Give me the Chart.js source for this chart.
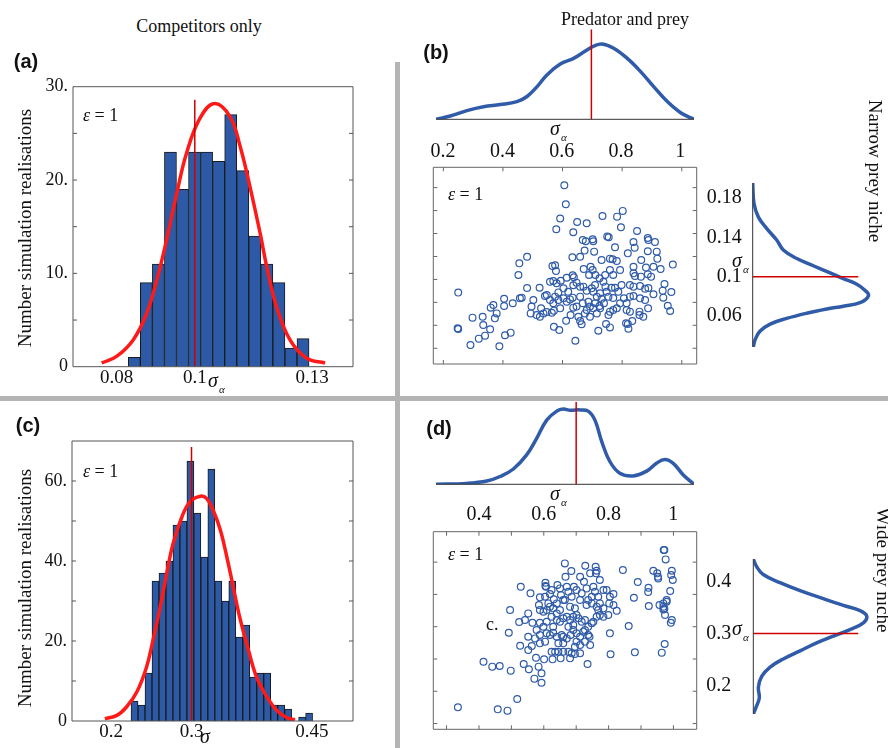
<!DOCTYPE html>
<html>
<head>
<meta charset="utf-8">
<script src="https://cdn.jsdelivr.net/npm/chart.js@4.4.1/dist/chart.umd.min.js"></script>
<style>
  body { margin: 0; background: #fff; }
  #page { position: relative; width: 888px; height: 748px; overflow: hidden;
          font-family: 'Liberation Serif', 'Times New Roman', serif; color: #111; }
  .box { position: absolute; }
  .rule { position: absolute; background: #b4b4b4; }
  .t { position: absolute; white-space: nowrap; line-height: 1; font-size: 18px; }
  .c { transform: translate(-50%, -50%); }
  .vl { transform: translate(-50%, -50%) rotate(-90deg); font-size: 19px; }
  .vr { transform: translate(-50%, -50%) rotate(90deg); font-size: 19px; }
  .mid { transform: translateY(-50%); }
  .tag { font-family: 'Liberation Sans', Arial, sans-serif; font-weight: bold; font-size: 20px; }
  .sig { font-size: 20px; line-height: 20px; font-style: italic; }
  .sig span { font-size: 11px; position: relative; top: 6px; margin-left: 1px; }
</style>
</head>
<body>
<div id="page">
  <div class="rule" style="left:395px;top:62px;width:5px;height:686px"></div>
  <div class="rule" style="left:0;top:396px;width:888px;height:5px"></div>

  <div class="box" style="left:0;top:60px;width:370px;height:340px"><canvas id="histA"></canvas></div>
  <div class="box" style="left:0;top:420px;width:370px;height:328px"><canvas id="histC"></canvas></div>
  <div class="box" style="left:400px;top:20px;width:310px;height:140px"><canvas id="topB"></canvas></div>
  <div class="box" style="left:400px;top:395px;width:310px;height:140px"><canvas id="topD"></canvas></div>
  <div class="box" style="left:420px;top:160px;width:290px;height:210px"><canvas id="scatB"></canvas></div>
  <div class="box" style="left:420px;top:525px;width:290px;height:215px"><canvas id="scatD"></canvas></div>
  <div class="box" style="left:700px;top:160px;width:188px;height:210px"><canvas id="sideB"></canvas></div>
  <div class="box" style="left:700px;top:525px;width:188px;height:223px"><canvas id="sideD"></canvas></div>

  <div class="t c" style="left:199px;top:26px">Competitors only</div>
  <div class="t c" style="left:625px;top:19px">Predator and prey</div>
  <div class="t c tag" style="left:26px;top:61px">(a)</div>
  <div class="t c tag" style="left:436px;top:52px">(b)</div>
  <div class="t c tag" style="left:28px;top:425px">(c)</div>
  <div class="t c tag" style="left:439px;top:428px">(d)</div>
  <div class="t vl" style="left:24px;top:228px">Number simulation realisations</div>
  <div class="t vl" style="left:24px;top:588px">Number simulation realisations</div>
  <div class="t vr" style="left:875px;top:171px">Narrow prey niche</div>
  <div class="t vr" style="left:883px;top:570px">Wide prey niche</div>

  <div class="t mid" style="left:83px;top:115px"><i>ε</i> = 1</div>
  <div class="t mid" style="left:83px;top:471px"><i>ε</i> = 1</div>
  <div class="t mid" style="left:448px;top:194px"><i>ε</i> = 1</div>
  <div class="t mid" style="left:448px;top:554px"><i>ε</i> = 1</div>
  <div class="t mid" style="left:486px;top:624px">c.</div>

  <div class="t sig" style="left:208px;top:370px">σ<span>α</span></div>
  <div class="t sig" style="left:200px;top:726px">σ</div>
  <div class="t sig" style="left:550px;top:118px">σ<span>α</span></div>
  <div class="t sig" style="left:550px;top:483px">σ<span>α</span></div>
  <div class="t sig" style="left:732px;top:250px">σ<span>α</span></div>
  <div class="t sig" style="left:732px;top:618px">σ<span>α</span></div>
</div>

<script>
// (a) competitors only, narrow niche
const aBins = [0.08454, 0.08762, 0.09070, 0.09378, 0.09686, 0.09994, 0.10302, 0.10610,
               0.10918, 0.11226, 0.11534, 0.11842, 0.12150, 0.12458, 0.12766];
const aCounts = [1, 9, 11, 23, 19, 23, 23, 22, 27, 21, 14, 11, 9, 2, 3];
const aFitX = [0.0762, 0.0800, 0.0843, 0.0877, 0.0903, 0.0928, 0.0954, 0.0979, 0.1013, 0.1050,
               0.1090, 0.1116, 0.1141, 0.1167, 0.1184, 0.1209, 0.1243, 0.1286, 0.1333];
const aFitY = [0.4, 1.1, 2.9, 5.7, 9.3, 13.6, 18.6, 22.9, 26.6, 28.2,
               26.8, 23.6, 19.3, 14.3, 10.7, 6.4, 2.9, 0.9, 0.4];
const aXTicks = [0.08, 0.1, 0.13];
const aXLabels = ['0.08', '0.1', '0.13'];
const aYTicks = [0, 10, 20, 30];
const aYLabels = ['0', '10.', '20.', '30.'];
const aYMinor = [5, 10, 15, 20, 25];

// (c) competitors only, wide niche
const cBins = [0.2290, 0.2377, 0.2464, 0.2551, 0.2638, 0.2725, 0.2812, 0.2899, 0.2986, 0.3073,
               0.3160, 0.3247, 0.3334, 0.3421, 0.3508, 0.3595, 0.3682, 0.3769, 0.3856, 0.3943,
               0.4030, 0.4117, 0.4204, 0.4291, 0.4378, 0.4465];
const cCounts = [5, 4, 12, 35, 37, 40, 49, 50, 65, 52, 41, 63, 35, 30, 35, 21, 24, 11, 12, 12,
                 4, 4, 3, 0, 1, 2];
const cFitX = [0.192, 0.207, 0.219, 0.232, 0.244, 0.252, 0.261, 0.269, 0.277, 0.288, 0.298, 0.311,
               0.319, 0.327, 0.336, 0.344, 0.352, 0.360, 0.371, 0.381, 0.394, 0.406, 0.419, 0.429];
const cFitY = [0.6, 1.4, 3.5, 7.3, 13.5, 20.2, 28.5, 36.8, 44.3, 51, 54.8, 56.2,
               55.6, 52.7, 47.7, 41, 33.5, 26, 17.7, 11, 6, 2.7, 0.8, 0.3];
const cXTicks = [0.2, 0.3, 0.45];
const cXLabels = ['0.2', '0.3', '0.45'];
const cYTicks = [0, 20, 40, 60];
const cYLabels = ['0', '20.', '40.', '60.'];
const cYMinor = [10, 20, 30, 40, 50, 60];

// (b) predator and prey, narrow prey niche
const bTopX = [0.176, 0.224, 0.280, 0.336, 0.393, 0.449, 0.483, 0.517, 0.550, 0.595, 0.640,
               0.685, 0.708, 0.736, 0.775, 0.821, 0.866, 0.910, 0.956, 1.001, 1.046];
const bTopY = [0, 0.11, 0.29, 0.42, 0.49, 0.59, 0.76, 1.09, 1.48, 1.84, 2.03,
               2.31, 2.44, 2.51, 2.37, 2.03, 1.59, 1.09, 0.59, 0.22, 0];
const bXTicks = [0.2, 0.4, 0.6, 0.8, 1];
const bXLabels = ['0.2', '0.4', '0.6', '0.8', '1'];
const bSideSig = [0.1954, 0.1751, 0.1606, 0.1490, 0.1373, 0.1272, 0.1184, 0.1111, 0.1039, 0.0980, 0.0923,
                  0.0865, 0.0806, 0.0734, 0.0699, 0.0670, 0.0627, 0.0574, 0.0516, 0.0443, 0.0356, 0.0283];
const bSideDens = [0, 0.04, 0.19, 0.47, 0.80, 1.02, 1.47, 2.02, 2.58, 3.02, 3.47,
                   3.73, 3.86, 3.58, 3.02, 2.47, 1.80, 1.13, 0.58, 0.24, 0.08, 0.02];
const bYTicks = [0.06, 0.1, 0.14, 0.18];
const bYLabels = ['0.06', '0.1', '0.14', '0.18'];
const bFrameX = [0.2, 0.4, 0.6, 0.8, 1.0];
const bFrameY = [0.04, 0.06, 0.08, 0.1, 0.12, 0.14, 0.16, 0.18];
const bPoints = [
  [0.606,0.1820],[0.611,0.1655],[0.592,0.1530],[0.579,0.1437],[0.649,0.1501],[0.681,0.1489],[0.636,0.1411],
  [0.734,0.1553],[0.783,0.1547],[0.802,0.1597],[0.796,0.1454],[0.850,0.1422],[0.668,0.1344],[0.678,0.1332],
  [0.701,0.1350],[0.703,0.1332],[0.750,0.1373],[0.755,0.1367],[0.776,0.1280],[0.838,0.1326],[0.842,0.1277],
  [0.886,0.1361],[0.888,0.1344],[0.910,0.1326],[0.706,0.1242],[0.674,0.1251],[0.633,0.1193],[0.659,0.1198],
  [0.819,0.1227],[0.886,0.1245],[0.864,0.1169],[0.918,0.1181],[0.970,0.1129],[0.929,0.1091],[0.880,0.1103],
  [0.481,0.1198],[0.455,0.1140],[0.452,0.1039],[0.481,0.0925],[0.523,0.0928],[0.541,0.0856],[0.566,0.1117],
  [0.575,0.1123],[0.578,0.1073],[0.558,0.0980],[0.569,0.0986],[0.580,0.0966],[0.594,0.0989],[0.603,0.0922],
  [0.586,0.0887],[0.614,0.1015],[0.634,0.1036],[0.638,0.1018],[0.647,0.0972],[0.636,0.0949],[0.671,0.1091],
  [0.694,0.1111],[0.701,0.1082],[0.689,0.1039],[0.710,0.1039],[0.724,0.1010],[0.731,0.1169],[0.759,0.1181],
  [0.768,0.1175],[0.782,0.1161],[0.759,0.1082],[0.793,0.1082],[0.838,0.1053],[0.843,0.1030],[0.863,0.1024],
  [0.886,0.1044],[0.897,0.1024],[0.838,0.0937],[0.826,0.0951],[0.860,0.0943],[0.877,0.0919],[0.888,0.0925],
  [0.942,0.0960],[0.936,0.0902],[0.965,0.0890],[0.905,0.0870],[0.938,0.0841],[0.953,0.0771],[0.961,0.0725],
  [0.887,0.0748],[0.871,0.0675],[0.858,0.0719],[0.838,0.0856],[0.826,0.0850],[0.815,0.0792],[0.806,0.0835],
  [0.793,0.0792],[0.770,0.0838],[0.764,0.0928],[0.776,0.0928],[0.744,0.0937],[0.748,0.0893],[0.731,0.0832],
  [0.739,0.0792],[0.724,0.0768],[0.709,0.0792],[0.703,0.0748],[0.692,0.0763],[0.687,0.0806],[0.698,0.0922],
  [0.709,0.0951],[0.703,0.0893],[0.681,0.0902],[0.670,0.0937],[0.668,0.0792],[0.659,0.0850],[0.647,0.0763],
  [0.634,0.0841],[0.625,0.0826],[0.614,0.0806],[0.603,0.0835],[0.586,0.0821],[0.569,0.0792],[0.558,0.0821],
  [0.571,0.0728],[0.564,0.0710],[0.547,0.0716],[0.536,0.0704],[0.524,0.0675],[0.513,0.0690],[0.496,0.0763],
  [0.493,0.0704],[0.502,0.0821],[0.592,0.0748],[0.612,0.0640],[0.627,0.0690],[0.659,0.0638],[0.664,0.0609],
  [0.653,0.0675],[0.636,0.0754],[0.754,0.0690],[0.759,0.0719],[0.770,0.0733],[0.782,0.0748],[0.815,0.0733],
  [0.834,0.0638],[0.813,0.0617],[0.821,0.0571],[0.819,0.0611],[0.858,0.0690],[0.759,0.0582],[0.746,0.0611],
  [0.720,0.0553],[0.571,0.0588],[0.589,0.0559],[0.643,0.0466],[0.433,0.0792],[0.404,0.0832],[0.404,0.0768],
  [0.457,0.0835],[0.463,0.0841],[0.368,0.0777],[0.359,0.0754],[0.379,0.0704],[0.373,0.0661],[0.332,0.0675],
  [0.334,0.0603],[0.298,0.0667],[0.357,0.0565],[0.340,0.0510],[0.319,0.0484],[0.291,0.0428],[0.388,0.0417],
  [0.407,0.0513],[0.426,0.0536],[0.250,0.0885],[0.248,0.0574],[0.250,0.0568],[0.715,0.0704],[0.726,0.0748],
  [0.681,0.0733],[0.675,0.0704],[0.692,0.0675],[0.715,0.0850],[0.726,0.0879],[0.754,0.0850],[0.787,0.0893],
  [0.798,0.0951],[0.770,0.1039],[0.743,0.1039],[0.860,0.0835],[0.877,0.0821],[0.826,0.0719],[0.619,0.0893],
  [0.575,0.0850],[0.547,0.0864],[0.528,0.0748],[0.659,0.0937],[0.737,0.0980],[0.838,0.1111],[0.905,0.1111],
  [0.916,0.1242]
];

// (d) predator and prey, wide prey niche
const dTopX = [0.267, 0.362, 0.424, 0.465, 0.506, 0.547, 0.578, 0.609, 0.640, 0.660, 0.681, 0.712,
               0.737, 0.758, 0.779, 0.804, 0.835, 0.876, 0.918, 0.948, 0.974, 1.000, 1.031, 1.064];
const dTopY = [0, 0.03, 0.11, 0.26, 0.51, 0.98, 1.53, 2.14, 2.44, 2.51, 2.47, 2.48,
               2.44, 2.14, 1.42, 0.76, 0.37, 0.28, 0.44, 0.70, 0.83, 0.70, 0.31, 0];
const dXTicks = [0.4, 0.6, 0.8, 1];
const dXLabels = ['0.4', '0.6', '0.8', '1'];
const dSideSig = [0.4435, 0.4291, 0.4136, 0.3981, 0.3827, 0.3672, 0.3542, 0.3440, 0.3336, 0.3207, 0.3077,
                  0.2949, 0.2820, 0.2666, 0.2511, 0.2356, 0.2175, 0.1969, 0.1762, 0.1607, 0.1452];
const dSideDens = [0, 0.11, 0.33, 0.89, 1.56, 2.33, 3.0, 3.56, 3.78, 3.67, 3.22,
                   2.67, 2.11, 1.56, 1.0, 0.56, 0.28, 0.17, 0.2, 0.11, 0];
const dYTicks = [0.2, 0.3, 0.4];
const dYLabels = ['0.2', '0.3', '0.4'];
const dFrameX = [0.3, 0.4, 0.5, 0.6, 0.7, 0.8, 0.9, 1.0];
const dFrameY = [0.15, 0.2, 0.25, 0.3, 0.35, 0.4];
const dPoints = [
  [0.335,0.1751],[0.458,0.1720],[0.488,0.1700],[0.518,0.1880],[0.414,0.2458],[0.441,0.2381],[0.464,0.2391],
  [0.498,0.2319],[0.538,0.2422],[0.554,0.2340],[0.571,0.2195],[0.593,0.2278],[0.593,0.2133],[0.584,0.2381],
  [0.576,0.2520],[0.601,0.2494],[0.496,0.3258],[0.492,0.2907],[0.527,0.2706],[0.552,0.2639],[0.563,0.2701],
  [0.524,0.3072],[0.542,0.3103],[0.565,0.3062],[0.552,0.3206],[0.552,0.2845],[0.578,0.2948],[0.573,0.2819],
  [0.588,0.2871],[0.604,0.2768],[0.599,0.3000],[0.609,0.3077],[0.529,0.3619],[0.559,0.3516],[0.585,0.3335],
  [0.588,0.3258],[0.599,0.3232],[0.604,0.3464],[0.607,0.3619],[0.605,0.3681],[0.624,0.3568],[0.631,0.3423],
  [0.640,0.3361],[0.642,0.3645],[0.650,0.3593],[0.665,0.3980],[0.667,0.3774],[0.685,0.3862],[0.653,0.3490],
  [0.660,0.3413],[0.671,0.3619],[0.693,0.3619],[0.701,0.3568],[0.712,0.3774],[0.728,0.3944],[0.724,0.3697],
  [0.732,0.3593],[0.743,0.3826],[0.760,0.3929],[0.763,0.3867],[0.761,0.3826],[0.773,0.3722],[0.753,0.3619],
  [0.758,0.3542],[0.768,0.3464],[0.773,0.3361],[0.784,0.3568],[0.794,0.3568],[0.804,0.3464],[0.815,0.3335],
  [0.825,0.3248],[0.784,0.3284],[0.763,0.3310],[0.748,0.3361],[0.737,0.3413],[0.712,0.3413],[0.696,0.3284],
  [0.681,0.3310],[0.665,0.3413],[0.650,0.3258],[0.640,0.3206],[0.629,0.3284],[0.624,0.3155],[0.619,0.3310],
  [0.614,0.3361],[0.640,0.3103],[0.650,0.3077],[0.660,0.3129],[0.671,0.3155],[0.681,0.3103],[0.691,0.3155],
  [0.707,0.3129],[0.717,0.3077],[0.727,0.3103],[0.737,0.3000],[0.748,0.3052],[0.753,0.3077],[0.763,0.3155],
  [0.773,0.3181],[0.784,0.3155],[0.799,0.3181],[0.609,0.2897],[0.619,0.2871],[0.629,0.2907],[0.640,0.2845],
  [0.645,0.2742],[0.655,0.2871],[0.660,0.2845],[0.671,0.2819],[0.683,0.2871],[0.691,0.2948],[0.701,0.2897],
  [0.712,0.2845],[0.722,0.2923],[0.737,0.2871],[0.741,0.2845],[0.743,0.2716],[0.727,0.2768],[0.701,0.2768],
  [0.696,0.2690],[0.624,0.2613],[0.635,0.2613],[0.645,0.2613],[0.660,0.2613],[0.676,0.2613],[0.686,0.2587],
  [0.696,0.2577],[0.712,0.2587],[0.652,0.2510],[0.627,0.2494],[0.681,0.2510],[0.735,0.2422],[0.804,0.2897],
  [0.806,0.2572],[0.862,0.3010],[0.881,0.2603],[0.878,0.3449],[0.890,0.3691],[0.844,0.3877],[0.923,0.3604],
  [0.922,0.3537],[0.924,0.3320],[0.938,0.3867],[0.950,0.3826],[0.952,0.3774],[0.953,0.3748],[0.957,0.3335],
  [0.969,0.3310],[0.972,0.3279],[0.969,0.3361],[0.979,0.3413],[0.990,0.3552],[0.993,0.3800],[0.998,0.3722],
  [0.995,0.3867],[0.972,0.4187],[0.976,0.4042],[0.974,0.3181],[0.995,0.3103],[0.992,0.3062],[0.973,0.2732],
  [0.964,0.2598],[0.969,0.3268],[0.979,0.3387],[0.970,0.4187],[0.605,0.3630],[0.588,0.3454],[0.619,0.3506],
  [0.676,0.3542],[0.686,0.3464],[0.717,0.3516],[0.732,0.3335],[0.748,0.3464],[0.768,0.3258],[0.802,0.3361],
  [0.815,0.3506],[0.676,0.3000],[0.691,0.3026],[0.701,0.3181],[0.629,0.3000],[0.588,0.2742],[0.660,0.2742],
  [0.712,0.2716],[0.727,0.2948],[0.588,0.3062],[0.609,0.3258]
];

const histBlue = '#2d5aa6';
const lineBlue = '#2f5ba8';
const fitRed = '#ff1a1a';
const trueRed = '#d00000';

Chart.defaults.font.family = "'Liberation Serif', 'Times New Roman', serif";
Chart.defaults.color = '#111';
Chart.defaults.animation = false;
Chart.defaults.events = [];
Chart.defaults.maintainAspectRatio = false;
Chart.defaults.plugins.legend.display = false;
Chart.defaults.plugins.tooltip.enabled = false;

function pts(xs, ys) {
  return xs.map((x, i) => ({ x: x, y: ys[i] }));
}

// box lines and inward tick marks, placed through the chart's own scales
function frame(spec) {
  return {
    id: 'frame',
    afterDatasetsDraw(chart) {
      const { ctx, chartArea: a, scales } = chart;
      const s = spec.sides;
      const len = 4;
      ctx.save();
      ctx.strokeStyle = spec.color;
      ctx.lineWidth = 1;
      ctx.beginPath();
      if (s.includes('top')) { ctx.moveTo(a.left, a.top); ctx.lineTo(a.right, a.top); }
      if (s.includes('bottom')) { ctx.moveTo(a.left, a.bottom); ctx.lineTo(a.right, a.bottom); }
      if (s.includes('left')) { ctx.moveTo(a.left, a.top); ctx.lineTo(a.left, a.bottom); }
      if (s.includes('right')) { ctx.moveTo(a.right, a.top); ctx.lineTo(a.right, a.bottom); }
      (spec.xTicks || []).forEach(v => {
        const x = scales.x.getPixelForValue(v);
        if (s.includes('bottom')) { ctx.moveTo(x, a.bottom); ctx.lineTo(x, a.bottom - len); }
        if (s.includes('top')) { ctx.moveTo(x, a.top); ctx.lineTo(x, a.top + len); }
      });
      (spec.yTicks || []).forEach(v => {
        const y = scales.y.getPixelForValue(v);
        if (s.includes('left')) { ctx.moveTo(a.left, y); ctx.lineTo(a.left + len, y); }
        if (s.includes('right')) { ctx.moveTo(a.right, y); ctx.lineTo(a.right - len, y); }
      });
      ctx.stroke();
      ctx.restore();
    }
  };
}

function hiddenAxis(min, max) {
  return { type: 'linear', display: false, min: min, max: max, bounds: 'data' };
}

function labelAxis(min, max, ticks, labels, size, pad, fit) {
  return {
    type: 'linear', min: min, max: max, bounds: 'data', offset: false,
    grid: { display: false, drawTicks: false },
    border: { display: false },
    afterBuildTicks: scale => { scale.ticks = ticks.map(v => ({ value: v })); },
    afterFit: fit,
    ticks: { autoSkip: false, maxRotation: 0, padding: pad, color: '#111',
             font: { size: size }, callback: (v, i) => labels[i] }
  };
}

function histogram(id, h) {
  new Chart(document.getElementById(id), {
    type: 'bar',
    data: {
      datasets: [
        { type: 'line', data: [{ x: h.truth, y: 0 }, { x: h.truth, y: h.truthTop }],
          borderColor: trueRed, borderWidth: 1.5, pointRadius: 0, order: 0 },
        { type: 'line', data: pts(h.fitX, h.fitY), borderColor: fitRed, borderWidth: 3.5,
          pointRadius: 0, tension: 0.4, order: 1 },
        { type: 'bar', data: pts(h.bins, h.counts), backgroundColor: histBlue, borderColor: '#1a1a1a',
          borderWidth: 1, barPercentage: 1, categoryPercentage: 1, order: 2 }
      ]
    },
    options: {
      layout: { padding: h.pad },
      scales: {
        x: labelAxis(h.xMin, h.xMax, h.xTicks, h.xLabels, 19, 0, s => { s.height = h.xh; }),
        y: labelAxis(0, h.yMax, h.yTicks, h.yLabels, 18, 5, s => { s.width = h.yw; })
      }
    },
    plugins: [frame({ sides: ['top', 'bottom', 'left', 'right'], yTicks: h.yMinor, color: '#555' })]
  });
}

function topDensity(id, d) {
  new Chart(document.getElementById(id), {
    type: 'line',
    data: {
      datasets: [
        { data: [{ x: d.truth, y: 0 }, { x: d.truth, y: d.yMax }], borderColor: trueRed,
          borderWidth: 1.5, pointRadius: 0 },
        { data: pts(d.x, d.y), borderColor: lineBlue, borderWidth: 3.5, pointRadius: 0, tension: 0.4 }
      ]
    },
    options: {
      layout: { padding: d.pad },
      scales: {
        x: labelAxis(d.xMin, d.xMax, d.ticks, d.labels, 20, d.xPad, s => { s.height = d.xh; }),
        y: hiddenAxis(0, d.yMax)
      }
    },
    plugins: [frame({ sides: ['bottom'], color: '#333' })]
  });
}

function sideDensity(id, d) {
  new Chart(document.getElementById(id), {
    type: 'line',
    data: {
      datasets: [
        { data: [{ x: 0, y: d.truth }, { x: d.truthLen, y: d.truth }], borderColor: trueRed,
          borderWidth: 1.5, pointRadius: 0 },
        { data: pts(d.dens, d.sig), borderColor: lineBlue, borderWidth: 3.5, pointRadius: 0, tension: 0.4 }
      ]
    },
    options: {
      layout: { padding: d.pad },
      scales: {
        x: hiddenAxis(0, 4),
        y: labelAxis(d.yMin, d.yMax, d.ticks, d.labels, 20, d.yPad, s => { s.width = d.yw; })
      }
    },
    plugins: [frame({ sides: ['left'], color: '#333' })]
  });
}

function scatterPanel(id, p) {
  new Chart(document.getElementById(id), {
    type: 'scatter',
    data: {
      datasets: [{
        data: p.points.map(q => ({ x: q[0], y: q[1] })),
        pointRadius: 3.4, borderWidth: 1.2, borderColor: lineBlue, backgroundColor: 'rgba(0,0,0,0)'
      }]
    },
    options: {
      layout: { padding: p.pad },
      scales: { x: hiddenAxis(p.xMin, p.xMax), y: hiddenAxis(p.yMin, p.yMax) }
    },
    plugins: [frame({ sides: ['top', 'bottom', 'left', 'right'], xTicks: p.xTicks, yTicks: p.yTicks, color: '#666' })]
  });
}

histogram('histA', {
  bins: aBins, counts: aCounts, fitX: aFitX, fitY: aFitY, truth: 0.1, truthTop: 28.6,
  xMin: 0.06887, xMax: 0.14044, yMax: 30, xTicks: aXTicks, xLabels: aXLabels,
  yTicks: aYTicks, yLabels: aYLabels, yMinor: aYMinor,
  pad: { left: 0, right: 17, top: 26.7, bottom: 0 }, xh: 33.3, yw: 73
});

histogram('histC', {
  bins: cBins, counts: cCounts, fitX: cFitX, fitY: cFitY, truth: 0.3, truthTop: 68.5,
  xMin: 0.1511, xMax: 0.5012, yMax: 70, xTicks: cXTicks, xLabels: cXLabels,
  yTicks: cYTicks, yLabels: cYLabels, yMinor: cYMinor,
  pad: { left: 0, right: 17, top: 21, bottom: 0 }, xh: 27, yw: 72
});

topDensity('topB', {
  x: bTopX, y: bTopY, truth: 0.7, yMax: 3, xMin: 0.176, xMax: 1.046,
  ticks: bXTicks, labels: bXLabels, xPad: 20,
  pad: { left: 36, right: 16, top: 9.3, bottom: 0 }, xh: 40.7
});

topDensity('topD', {
  x: dTopX, y: dTopY, truth: 0.7, yMax: 2.75, xMin: 0.267, xMax: 1.064,
  ticks: dXTicks, labels: dXLabels, xPad: 18,
  pad: { left: 36, right: 16, top: 6.8, bottom: 0 }, xh: 50.7
});

scatterPanel('scatB', {
  points: bPoints, xMin: 0.1664, xMax: 1.0501, yMin: 0.0263, yMax: 0.1977,
  xTicks: bFrameX, yTicks: bFrameY,
  pad: { left: 13.3, right: 13.3, top: 7.3, bottom: 6 }
});

scatterPanel('scatD', {
  points: dPoints, xMin: 0.2591, xMax: 1.0718, yMin: 0.1411, yMax: 0.4471,
  xTicks: dFrameX, yTicks: dFrameY,
  pad: { left: 13.3, right: 13.3, top: 6.7, bottom: 10.7 }
});

sideDensity('sideB', {
  sig: bSideSig, dens: bSideDens, truth: 0.1, truthLen: 3.52,
  yMin: 0.0283, yMax: 0.1954, ticks: bYTicks, labels: bYLabels, yPad: 11,
  pad: { left: 0, right: 15.3, top: 10, bottom: 8.3 }, yw: 52.7
});

sideDensity('sideD', {
  sig: dSideSig, dens: dSideDens, truth: 0.3, truthLen: 3.5,
  yMin: 0.1452, yMax: 0.4435, ticks: dYTicks, labels: dYLabels, yPad: 22,
  pad: { left: 0, right: 14.7, top: 9, bottom: 21.3 }, yw: 53.3
});
</script>
</body>
</html>
